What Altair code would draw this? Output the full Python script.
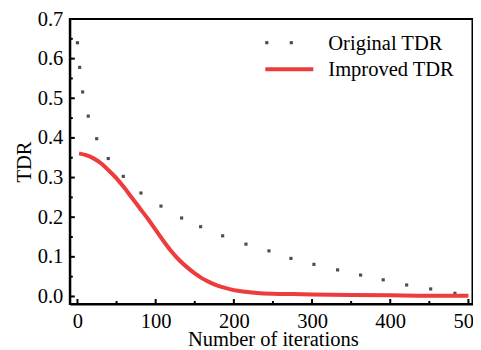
import altair as alt
import pandas as pd

# ---- data ----
orig_x = [0, 2.8, 6.6, 13.8, 24.6, 39.4, 58.6, 81.2, 106.8, 133.2, 157.5, 185.7,
          215.5, 244.9, 273, 302.4, 332.7, 362.1, 391, 421, 451.7, 482.7]
orig_y = [0.640, 0.578, 0.516, 0.455, 0.398, 0.348, 0.303, 0.261, 0.228, 0.198, 0.176, 0.153,
          0.132, 0.115, 0.096, 0.081, 0.067, 0.054, 0.042, 0.029, 0.019, 0.008]
imp_x = [2, 10, 20, 30, 40, 50, 60, 70, 80, 90, 100, 110, 120, 130, 140, 150, 160, 170,
         180, 190, 200, 215, 230, 250, 275, 300, 350, 400, 450, 500]
imp_y = [0.361, 0.357, 0.349, 0.336, 0.318, 0.298, 0.274, 0.248, 0.222, 0.196, 0.168, 0.140,
         0.114, 0.092, 0.074, 0.058, 0.045, 0.035, 0.027, 0.021, 0.016, 0.012, 0.009, 0.007,
         0.006, 0.005, 0.004, 0.003, 0.002, 0.002]
series = ["Original TDR", "Improved TDR"]
x_major = [0, 100, 200, 300, 400, 500]
x_minor = [50, 150, 250, 350, 450]
y_major = [0.0, 0.1, 0.2, 0.3, 0.4, 0.5, 0.6, 0.7]
y_minor = [0.05, 0.15, 0.25, 0.35, 0.45, 0.55, 0.65]

W, H = 402.7, 285
FONT = "Liberation Serif"
FS = 20.5
GRAY = "#4d4d4d"
RED = "#ee3b3b"

orig = pd.DataFrame({"x": orig_x, "y": orig_y})
imp = pd.DataFrame({"x": imp_x, "y": imp_y})

xs = alt.Scale(domain=[-9.8, 505.2], nice=False, zero=False)
ys = alt.Scale(domain=[-0.019, 0.7], nice=False, zero=False)

xaxis = alt.Axis(values=x_major, ticks=False, grid=False, labelFont=FONT, labelFontSize=FS,
                 labelColor="black", labelPadding=7, domainColor="black", domainWidth=2,
                 title="Number of iterations", titleFont=FONT, titleFontSize=FS,
                 titleFontWeight="normal", titleColor="black", titleBaseline="alphabetic",
                 titleX=203, titleY=41.5, labelFlush=False, labelOverlap=False)
yaxis = alt.Axis(values=y_major, format=".1f", ticks=False, grid=False, labelFont=FONT,
                 labelFontSize=FS, labelColor="black", labelPadding=7, domainColor="black",
                 domainWidth=2, title="TDR", titleFont=FONT, titleFontSize=FS,
                 titleFontWeight="normal", titleColor="black", titleBaseline="alphabetic",
                 titleAngle=270, titleX=-39, titleY=H / 2, labelFlush=False)

X = alt.X("x:Q", scale=xs, axis=xaxis)
Y = alt.Y("y:Q", scale=ys, axis=yaxis)

pts = alt.Chart(orig).mark_square(size=10, color=GRAY, opacity=1).encode(x=X, y=Y)
line = alt.Chart(imp).mark_line(color=RED, strokeWidth=4, interpolate="monotone").encode(x=X, y=Y)

def xticks(vals, length):
    return alt.Chart(pd.DataFrame({"x": vals})).mark_rule(color="black", strokeWidth=2).encode(
        x=X, y=alt.value(H), y2=alt.value(H - length))

def yticks(vals, length):
    return alt.Chart(pd.DataFrame({"y": vals})).mark_rule(color="black", strokeWidth=2).encode(
        y=Y, x=alt.value(0), x2=alt.value(length))

leg_df = pd.DataFrame({"label": series})
leg_dot1 = alt.Chart(leg_df.iloc[:1]).mark_square(size=10, color=GRAY, opacity=1).encode(
    x=alt.value(197), y=alt.value(23.7))
leg_dot2 = alt.Chart(leg_df.iloc[:1]).mark_square(size=10, color=GRAY, opacity=1).encode(
    x=alt.value(221.5), y=alt.value(23.7))
leg_line = alt.Chart(leg_df.iloc[1:]).mark_rule(color=RED, strokeWidth=4).encode(
    x=alt.value(195.5), x2=alt.value(243.5), y=alt.value(50.3))
leg_text1 = alt.Chart(leg_df.iloc[:1]).mark_text(
    font=FONT, fontSize=FS, align="left", baseline="alphabetic", color="black").encode(
    text="label:N", x=alt.value(258.5), y=alt.value(30.5))
leg_text2 = alt.Chart(leg_df.iloc[1:]).mark_text(
    font=FONT, fontSize=FS, align="left", baseline="alphabetic", color="black").encode(
    text="label:N", x=alt.value(258.5), y=alt.value(57))

chart = alt.layer(
    pts, line,
    xticks(x_major, 5), xticks(x_minor, 3), yticks(y_major, 5), yticks(y_minor, 3),
    leg_dot1, leg_dot2, leg_line, leg_text1, leg_text2,
).properties(
    width=W, height=H,
    autosize=alt.AutoSizeParams(type="none"),
    padding={"left": 61.8, "top": 11, "right": 0.5, "bottom": 46},
).configure(background="white", view=alt.ViewConfig(stroke="black", strokeWidth=2))

chart.save("out.html", embed_options={"renderer": "svg", "actions": False})
